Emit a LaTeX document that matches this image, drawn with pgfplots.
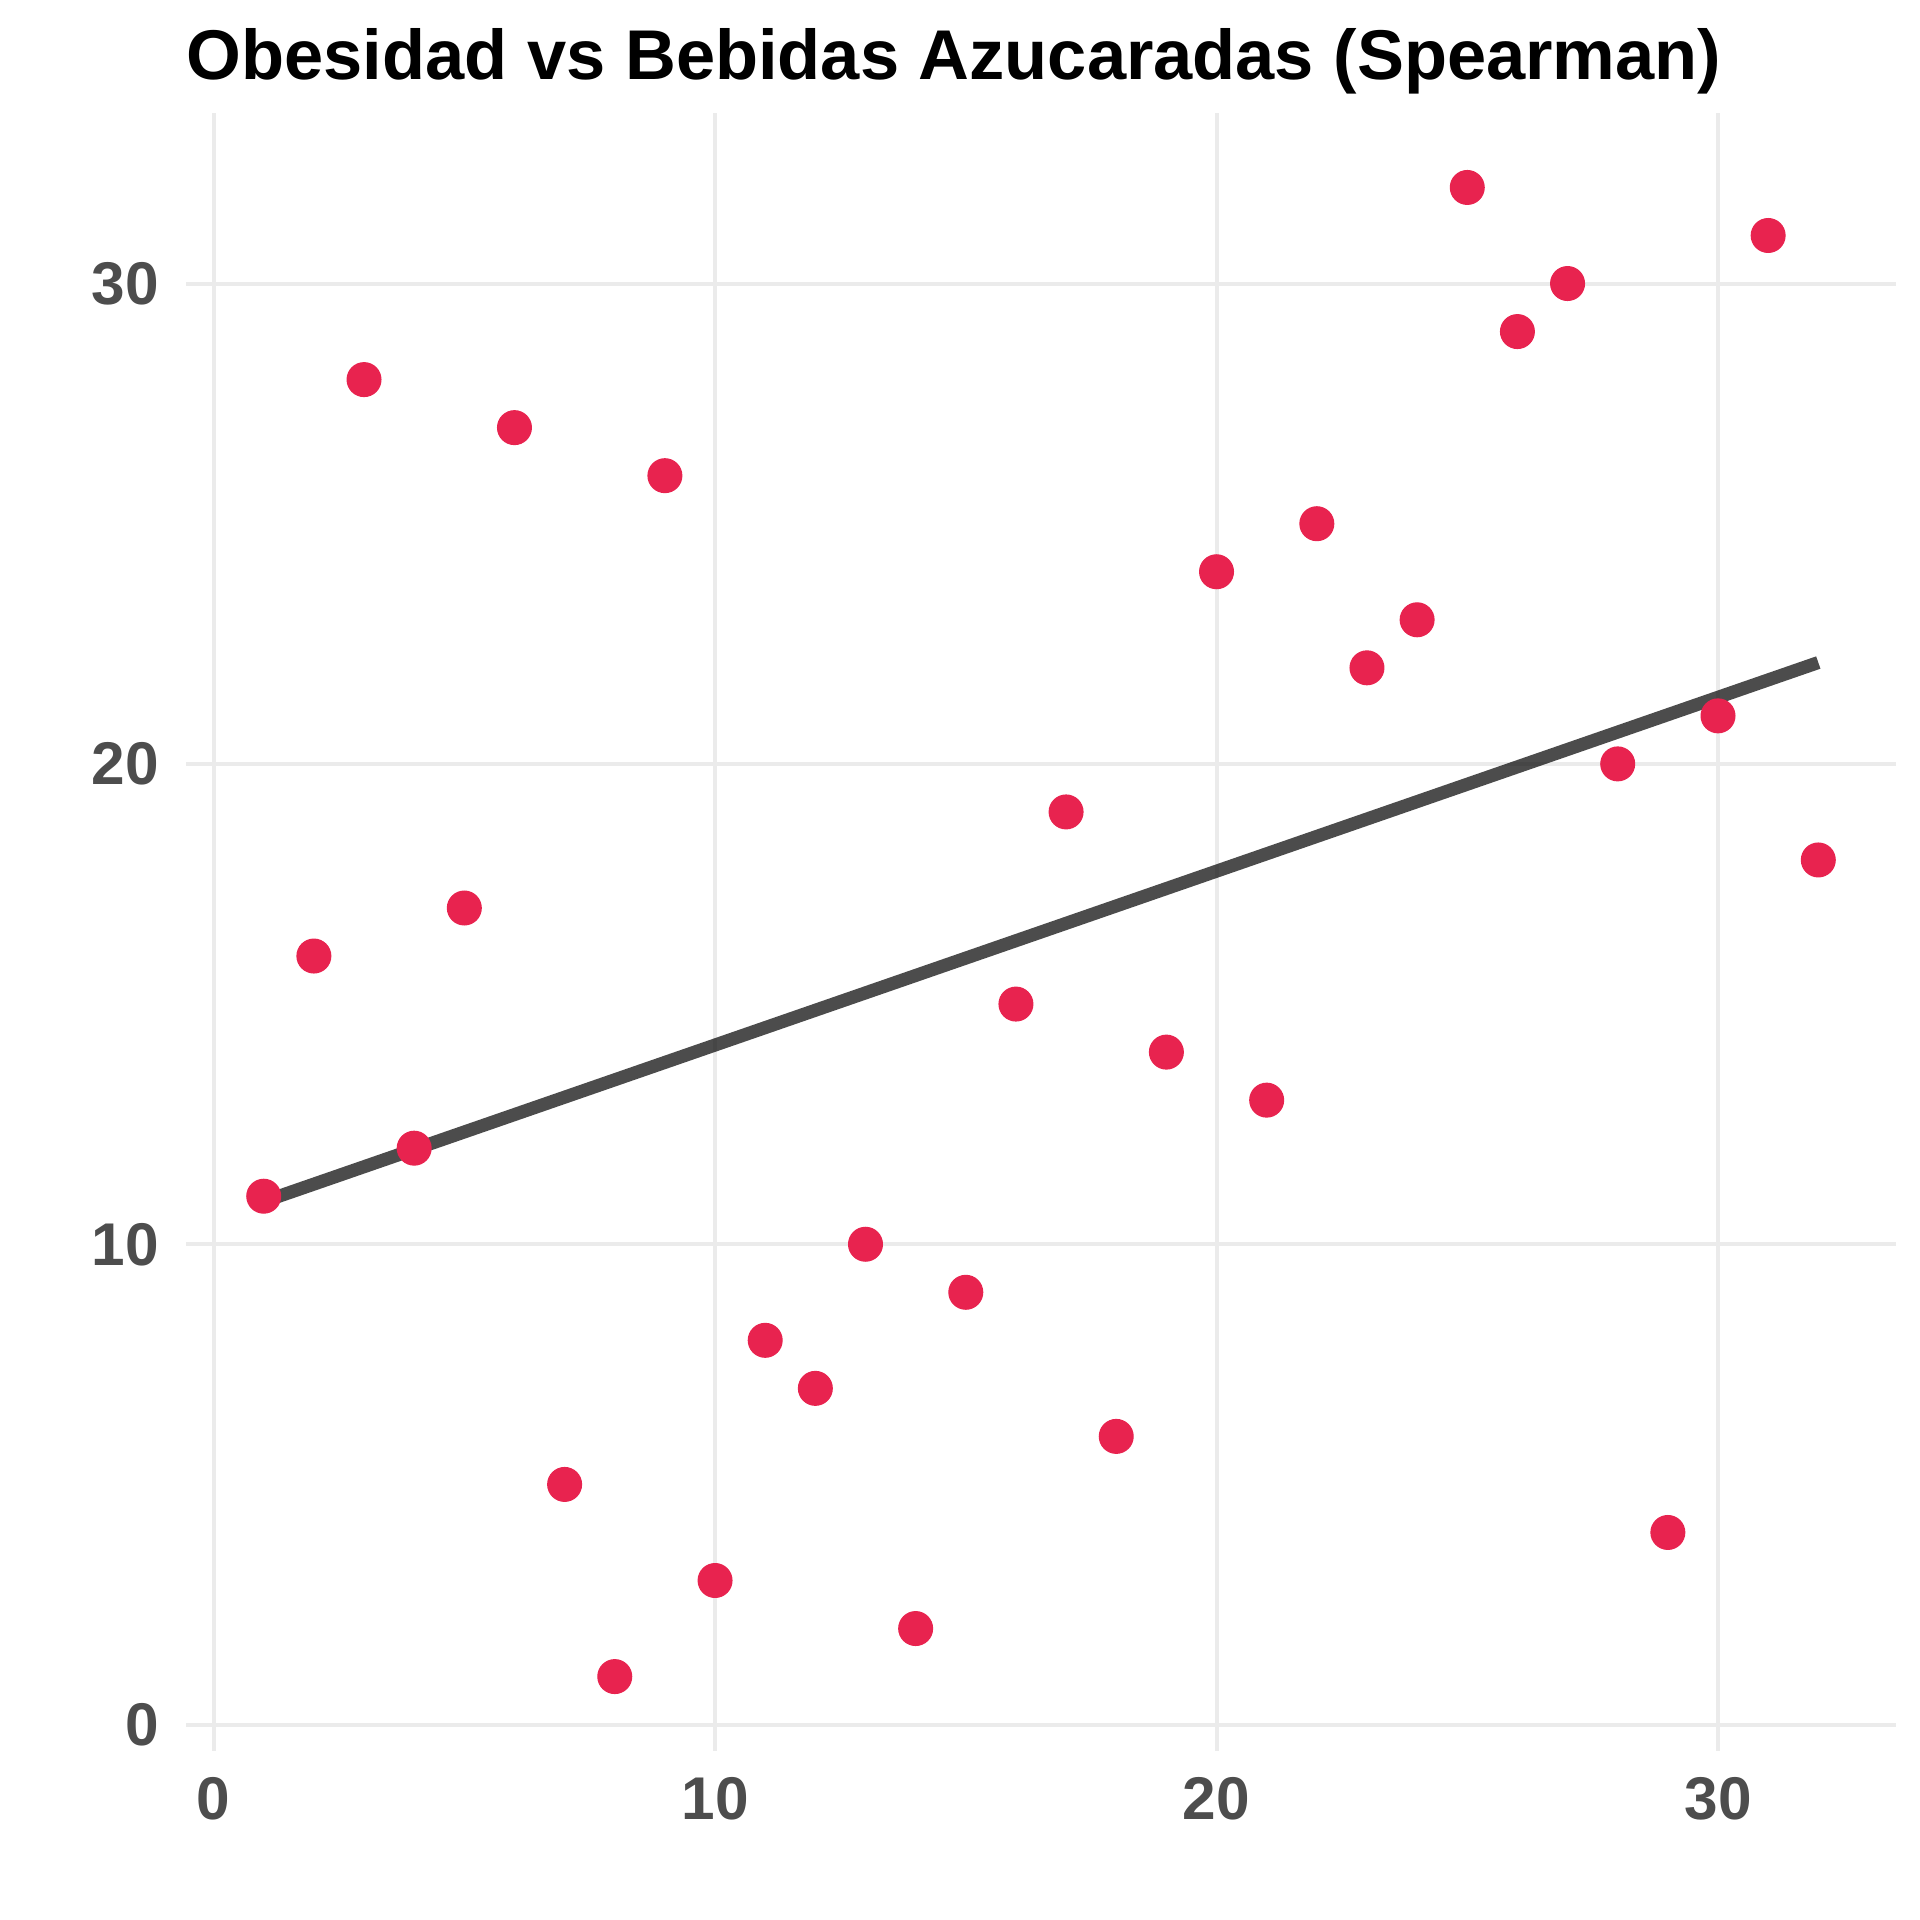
\documentclass[border=0pt]{standalone}
\usepackage{fontspec}
\setmainfont{Liberation Sans}
\usepackage{pgfplots}
\pgfplotsset{compat=1.18}

\definecolor{ptred}{HTML}{E8234F}
\definecolor{ticktxt}{HTML}{4D4D4D}
\definecolor{gridc}{HTML}{EBEBEB}

\begin{document}
\begin{tikzpicture}
  \begin{axis}[
    name=ax,
    scale only axis,
    width=14.25cm, height=13.65cm,
    xmin=-0.55, xmax=33.55,
    ymin=-0.55, ymax=33.55,
    xtick={0,10,20,30},
    ytick={0,10,20,30},
    axis line style={draw=none},
    major tick length=0pt,
    tick style={draw=none},
    grid=major,
    major grid style={color=gridc, line width=0.95pt},
    /pgf/number format/assume math mode=true,
    tick label style={font=\fontsize{14.3}{17}\selectfont\bfseries, text=ticktxt, inner sep=0pt},
    yticklabel style={anchor=east, xshift=-0.22cm},
    xticklabel style={anchor=north, yshift=-0.21cm},
    title={Obesidad vs Bebidas Azucaradas (Spearman)},
    title style={at={(0,1)}, anchor=base west, yshift=0.07cm, inner sep=0pt,
      font=\fontsize{16.7}{20}\selectfont\bfseries},
  ]
  % ranks
  \addplot[only marks, mark=*, mark size=4pt, color=ptred, mark options={fill=ptred, line width=0.3pt}]
    coordinates {
      (1,11) (2,16) (3,28) (4,12) (5,17) (6,27) (7,5) (8,1)
      (9,26) (10,3) (11,8) (12,7) (13,10) (14,2) (15,9) (16,15)
      (17,19) (18,6) (19,14) (20,24) (21,13) (22,25) (23,22) (24,23)
      (25,32) (26,29) (27,30) (28,20) (29,4) (30,21) (31,31) (32,18)
    };
  % fitted line
  \addplot[black, opacity=0.7, line width=3.1pt] coordinates {(1,10.89) (32,22.11)};
  \end{axis}
  \pgfresetboundingbox
  \path ([shift={(-1.55cm,-1.408cm)}]ax.south west) rectangle ([shift={(0.2cm,0.942cm)}]ax.north east);
\end{tikzpicture}
\end{document}
